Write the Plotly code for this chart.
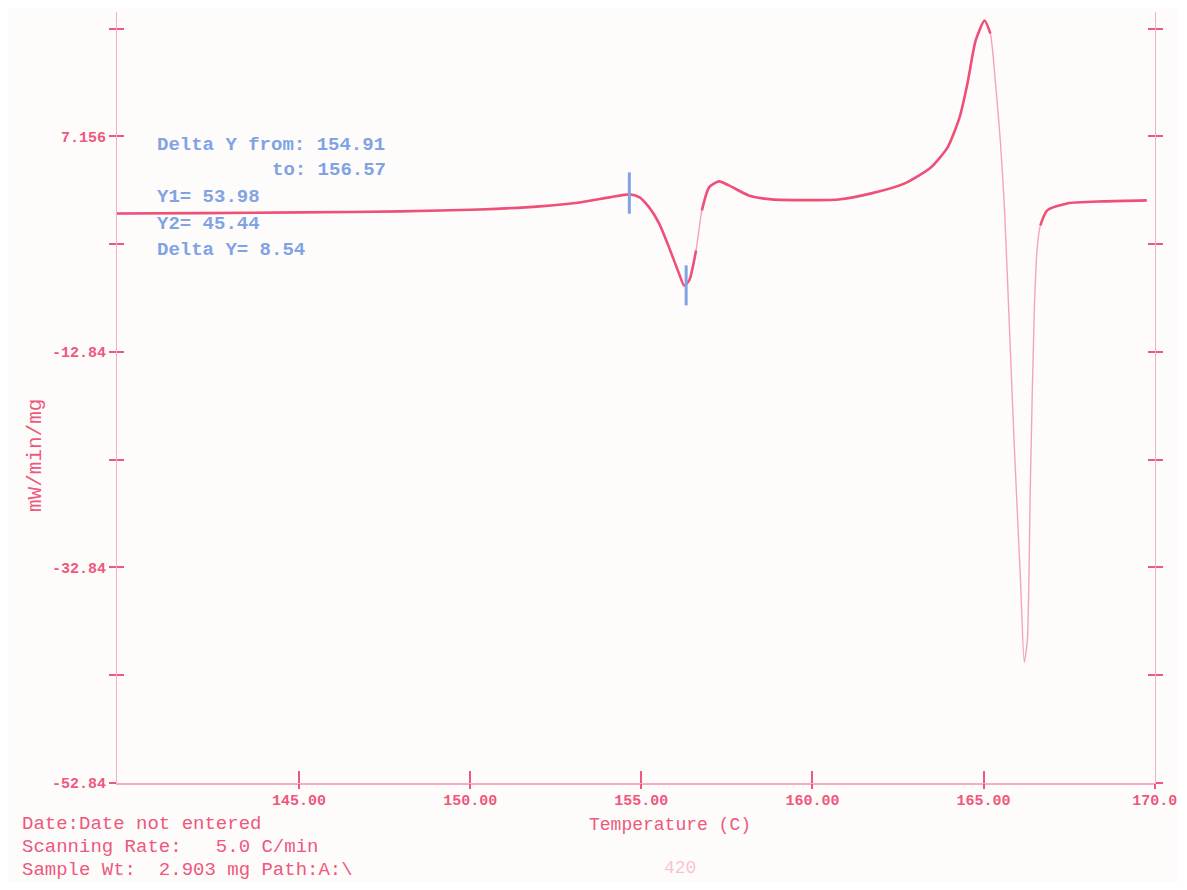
import numpy as np
import plotly.graph_objects as go

# ---- data ----
temperature = [139.68, 142.15, 145.06, 147.97, 150.29, 152.03, 153.20, 154.07, 154.65, 154.94,
               155.23, 155.52, 155.81, 156.10, 156.25, 156.40, 156.60, 156.77, 156.98, 157.27,
               157.56, 158.14, 158.81, 160.76, 161.72, 162.70, 163.46, 163.95, 164.30, 164.53,
               164.77, 165.03, 165.20, 165.35, 165.49, 165.61, 165.76, 165.90, 166.08, 166.19,
               166.28, 166.37, 166.48, 166.57, 166.66, 166.86, 167.44, 168.52, 169.77]
heat_flow = [0.00, 0.04, 0.11, 0.20, 0.38, 0.66, 1.03, 1.50, 1.78, 1.53,
             0.57, -0.91, -3.14, -5.55, -6.67, -6.20, -3.42, 0.29, 2.43, 2.98,
             2.61, 1.68, 1.31, 1.31, 1.87, 2.80, 4.28, 6.14, 8.92, 12.07,
             16.06, 17.91, 16.71, 12.07, 6.78, 0.57, -10.84, -21.69, -34.03, -41.63,
             -39.60, -24.75, -9.26, -3.14, -1.10, 0.29, 0.94, 1.13, 1.22]

cursor_x = [154.65, 156.31]
cursor_y_top = [3.82, -4.81]
cursor_y_bottom = [-0.02, -8.52]

x_tick_values = [145, 150, 155, 160, 165, 170]
x_tick_labels = ["145.00", "150.00", "155.00", "160.00", "165.00", "170.0"]
y_tick_values = [17.156, 7.156, -2.84, -12.84, -22.84, -32.84, -42.84, -52.84]
y_tick_labels = ["", "7.156", "", "-12.84", "", "-32.84", "", "-52.84"]

cursor_lines = ["Delta Y from: 154.91", "to: 156.57", "Y1= 53.98", "Y2= 45.44", "Delta Y= 8.54"]
footer_lines = ["Date:Date not entered", "Scanning Rate:   5.0 C/min", "Sample Wt:  2.903 mg Path:A:\\"]

# ---- styling ----
PINK = "rgb(238,80,120)"
PINK_TXT = "rgb(238,88,125)"
PINK_AX = "rgba(236,110,140,0.55)"
BLUE = "rgb(128,163,230)"
BG = "#fdfcfa"
MONO = "Liberation Mono, DejaVu Sans Mono, monospace"

# page shows the figure with an 8 px body margin
OFF = 8
FW, FH = 1171, 874
# plot area in screen pixels
L, R, T, B = 117, 1155, 12, 783
X_RANGE = [139.68, 170.01]
Y_RANGE = [-52.84, 18.7]
def px(xp):
    return (xp - L) / (R - L)
def py(yp):
    return (B - yp) / (B - T)

x = np.array(temperature)
y = np.array(heat_flow)

# pen moves fast on steep parts -> faint, thin ink; slow parts -> thick ink
xs = (R - L) / (X_RANGE[1] - X_RANGE[0])
ys = (B - T) / (Y_RANGE[1] - Y_RANGE[0])
slope = np.abs(np.diff(y) * ys) / np.abs(np.diff(x) * xs)
steep = slope > 6
thick_x, thick_y = [], []
for i in range(len(x) - 1):
    if not steep[i]:
        if thick_x and thick_x[-1] is not None and thick_x[-1] == x[i]:
            thick_x.append(x[i + 1]); thick_y.append(y[i + 1])
        else:
            thick_x += [None, x[i], x[i + 1]]; thick_y += [None, y[i], y[i + 1]]

fig = go.Figure()
fig.add_trace(go.Scatter(x=x, y=y, mode="lines", line=dict(color="rgba(238,105,140,0.6)", width=1.4,
                         shape="spline", smoothing=0.6), hoverinfo="skip", showlegend=False))
fig.add_trace(go.Scatter(x=thick_x, y=thick_y, mode="lines", line=dict(color=PINK, width=2.6,
                         shape="spline", smoothing=0.6), connectgaps=False, showlegend=False))

# cursor marks
cx, cy = [], []
for xv, yt, yb in zip(cursor_x, cursor_y_top, cursor_y_bottom):
    cx += [xv, xv, None]; cy += [yt, yb, None]
fig.add_trace(go.Scatter(x=cx, y=cy, mode="lines", line=dict(color=BLUE, width=3), showlegend=False))

# invisible trace on the overlay axes so they are drawn
fig.add_trace(go.Scatter(x=x, y=y, xaxis="x2", yaxis="y2", mode="lines",
                         line=dict(color="rgba(0,0,0,0)", width=0), hoverinfo="skip", showlegend=False))

tickfont = dict(family=MONO, size=15, color=PINK_TXT, weight="bold")

fig.update_layout(
    width=FW, height=FH,
    paper_bgcolor=BG, plot_bgcolor=BG,
    margin=dict(l=L - OFF, r=FW - (R - OFF), t=T - OFF, b=FH - (B - OFF), autoexpand=False),
    showlegend=False,
    xaxis=dict(range=X_RANGE, tickvals=x_tick_values, ticktext=x_tick_labels,
               ticks="inside", ticklen=12, tickwidth=1.5, tickcolor=PINK_TXT, automargin=False,
               showline=True, linecolor=PINK_AX, linewidth=1.5, showgrid=False, zeroline=False,
               tickfont=tickfont, ticklabelstandoff=2, ticklabeloverflow="allow"),
    yaxis=dict(range=Y_RANGE, tickvals=y_tick_values, ticktext=y_tick_labels,
               ticks="outside", ticklen=7, tickwidth=1.5, tickcolor=PINK_TXT, automargin=False,
               showline=True, linecolor=PINK_AX, linewidth=1.2, mirror="ticks",
               showgrid=False, zeroline=False, tickfont=tickfont, ticklabeloverflow="allow"),
    xaxis2=dict(range=X_RANGE, overlaying="x", tickvals=x_tick_values, automargin=False,
                ticks="outside", ticklen=5, tickwidth=1.5, tickcolor=PINK_TXT,
                showticklabels=False, showline=False, showgrid=False, zeroline=False),
    yaxis2=dict(range=Y_RANGE, overlaying="y", tickvals=y_tick_values, automargin=False,
                ticks="inside", ticklen=7, tickwidth=1.5, tickcolor=PINK_TXT, mirror="ticks",
                showticklabels=False, showline=False, showgrid=False, zeroline=False),
)

ann = []
# cursor readout (blue)
blue_font = dict(family=MONO, size=19, color=BLUE, weight="bold")
ann.append(dict(x=px(155), y=py(145), text=cursor_lines[0], xanchor="left"))
ann.append(dict(x=px(388), y=py(170), text=cursor_lines[1], xanchor="right"))
ann.append(dict(x=px(155), y=py(197), text=cursor_lines[2], xanchor="left"))
ann.append(dict(x=px(155), y=py(224), text=cursor_lines[3], xanchor="left"))
ann.append(dict(x=px(155), y=py(250), text=cursor_lines[4], xanchor="left"))
for a in ann:
    a.update(xref="paper", yref="paper", yanchor="middle", showarrow=False, font=blue_font)

foot_font = dict(family=MONO, size=19, color=PINK_TXT)
for i, t in enumerate(footer_lines):
    ann.append(dict(x=px(20), y=py(824 + 23 * i), text=t, xref="paper", yref="paper",
                    xanchor="left", yanchor="middle", showarrow=False, font=foot_font))

ann.append(dict(x=px(670), y=py(825), text="Temperature (C)", xref="paper", yref="paper",
                xanchor="center", yanchor="middle", showarrow=False,
                font=dict(family=MONO, size=18, color=PINK_TXT)))
ann.append(dict(x=px(36), y=py(456), text="mW/min/mg", textangle=-90, xref="paper", yref="paper",
                xanchor="center", yanchor="middle", showarrow=False,
                font=dict(family=MONO, size=21, color=PINK_TXT)))
ann.append(dict(x=px(680), y=py(868), text="420", xref="paper", yref="paper",
                xanchor="center", yanchor="middle", showarrow=False,
                font=dict(family=MONO, size=18, color="rgba(236,84,120,0.35)")))
fig.update_layout(annotations=ann)

fig.write_html("out.html")
